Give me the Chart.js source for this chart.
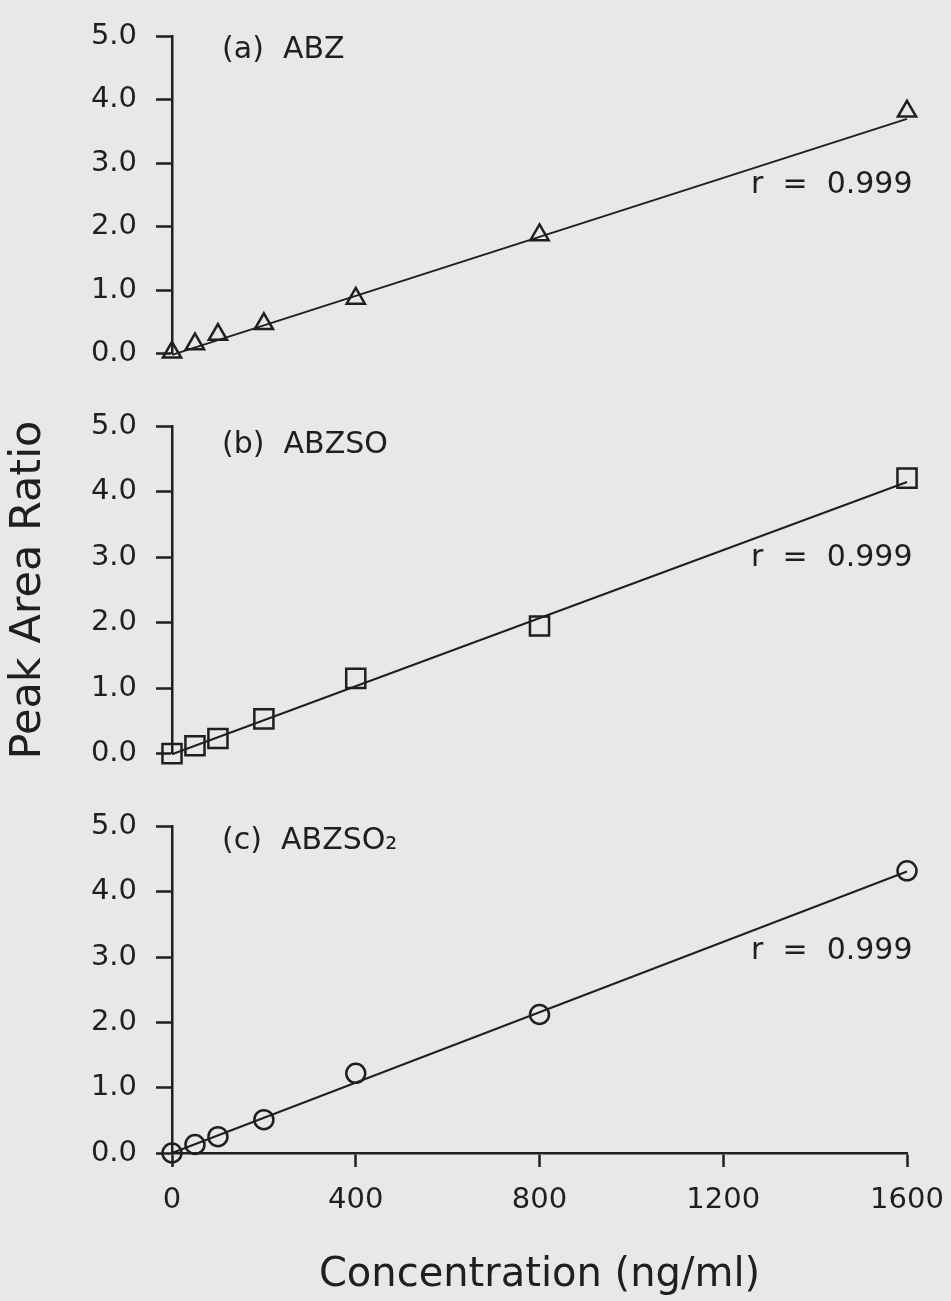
<!DOCTYPE html>
<html>
<head>
<meta charset="utf-8">
<script src="https://cdn.jsdelivr.net/npm/chart.js@4/dist/chart.umd.min.js"></script>
<style>
  body { margin: 0; background: #e8e8e8; }
  #wrap { position: relative; width: 951px; height: 1301px; }
  canvas { position: absolute; left: 0; }
</style>
</head>
<body>
<div id="wrap">
  <canvas id="panelA" width="951" height="390" style="top:0px"></canvas>
  <canvas id="panelB" width="951" height="400" style="top:390px"></canvas>
  <canvas id="panelC" width="951" height="511" style="top:790px"></canvas>
</div>
<script>
const concentrations = [0, 50, 100, 200, 400, 800, 1600];
const abzRatio = [0.02, 0.15, 0.30, 0.47, 0.87, 1.87, 3.82];
const abzsoRatio = [0.0, 0.12, 0.23, 0.53, 1.15, 1.95, 4.21];
const abzso2Ratio = [0.0, 0.13, 0.25, 0.51, 1.22, 2.12, 4.32];

// regression lines, read at both ends
const fitEnds = [0, 1600];
const abzFit = [-0.02, 3.70];
const abzsoFit = [-0.01, 4.15];
const abzso2Fit = [0.0, 4.31];

const yTicks = [0, 1, 2, 3, 4, 5];
const xTicks = [0, 400, 800, 1200, 1600];
const panelNames = ['(a)  ABZ', '(b)  ABZSO', '(c)  ABZSO\u2082'];
const rNotes = ['r  =  0.999', 'r  =  0.999', 'r  =  0.999'];

const ink = '#1f1f1f';
const fontFamily = '"DejaVu Sans", sans-serif';

function toPoints(xs, ys) {
    return xs.map((x, i) => ({ x: x, y: ys[i] }));
}

// draws the panel name and the r value inside the plot
const panelText = {
    id: 'panelText',
    afterDatasetsDraw(chart, args, opts) {
        const ctx = chart.ctx;
        const xs = chart.scales.x;
        const ys = chart.scales.y;
        ctx.save();
        ctx.fillStyle = ink;
        ctx.font = '30px ' + fontFamily;
        ctx.textBaseline = 'middle';
        ctx.textAlign = 'left';
        ctx.fillText(opts.name, xs.getPixelForValue(opts.nameAt[0]), ys.getPixelForValue(opts.nameAt[1]));
        ctx.textAlign = 'right';
        ctx.fillText(opts.note, xs.getPixelForValue(opts.noteAt[0]), ys.getPixelForValue(opts.noteAt[1]));
        ctx.restore();
    }
};

function makePanel(canvasId, values, fit, marker, markerSize, idx, opts) {
    const showX = opts.showX;
    return new Chart(document.getElementById(canvasId), {
        type: 'scatter',
        data: {
            datasets: [{
                data: toPoints(concentrations, values),
                showLine: false,
                pointStyle: marker,
                pointRadius: markerSize,
                pointHoverRadius: markerSize,
                pointBorderWidth: 2.5,
                pointBorderColor: ink,
                pointBackgroundColor: 'rgba(0,0,0,0)',
                clip: false
            }, {
                data: toPoints(fitEnds, fit),
                showLine: true,
                borderColor: ink,
                borderWidth: 2,
                pointRadius: 0,
                clip: false
            }]
        },
        options: {
            responsive: false,
            animation: false,
            devicePixelRatio: 1,
            layout: { padding: opts.padding },
            plugins: {
                legend: { display: false },
                tooltip: { enabled: false },
                panelText: {
                    name: panelNames[idx],
                    note: rNotes[idx],
                    nameAt: [109, opts.nameY],
                    noteAt: [1612, opts.noteY]
                }
            },
            scales: {
                x: {
                    type: 'linear',
                    min: 0,
                    max: 1600,
                    display: showX,
                    afterBuildTicks: axis => { axis.ticks = xTicks.map(v => ({ value: v })); },
                    afterFit: axis => {
                        if (showX) axis.height = 148;
                        axis.paddingLeft = 0;
                        axis.paddingRight = 0;
                    },
                    border: { display: true, color: ink, width: 2.5 },
                    grid: { drawOnChartArea: false, drawTicks: true, tickLength: 14, tickWidth: 2.5, color: ink },
                    ticks: {
                        color: ink,
                        padding: 16,
                        font: { family: fontFamily, size: 29 },
                        callback: v => String(v)
                    },
                    title: {
                        display: showX,
                        text: 'Concentration (ng/ml)',
                        color: ink,
                        padding: { top: 0, bottom: 1 },
                        font: { family: fontFamily, size: 40 }
                    }
                },
                y: {
                    type: 'linear',
                    min: 0,
                    max: 5,
                    afterBuildTicks: axis => { axis.ticks = yTicks.map(v => ({ value: v })); },
                    afterFit: axis => { axis.width = 172; },
                    border: { display: true, color: ink, width: 2.5 },
                    grid: { drawOnChartArea: false, drawTicks: true, tickLength: 16, tickWidth: 2.5, color: ink },
                    ticks: {
                        color: ink,
                        padding: 19,
                        font: { family: fontFamily, size: 29 },
                        callback: v => v.toFixed(1)
                    },
                    title: {
                        display: opts.yTitle,
                        text: 'Peak Area Ratio',
                        color: ink,
                        padding: { top: 3, bottom: 0 },
                        font: { family: fontFamily, size: 43 }
                    }
                }
            }
        },
        plugins: [panelText]
    });
}

makePanel('panelA', abzRatio, abzFit, 'triangle', 10.5, 0,
    { showX: false, yTitle: false, padding: { top: 20, bottom: 26, right: 44 }, nameY: 4.78, noteY: 2.65 });
makePanel('panelB', abzsoRatio, abzsoFit, 'rect', 13.5, 1,
    { showX: false, yTitle: true, padding: { top: 23, bottom: 30, right: 44 }, nameY: 4.71, noteY: 2.98 });
makePanel('panelC', abzso2Ratio, abzso2Fit, 'circle', 9.5, 2,
    { showX: true, yTitle: false, padding: { top: 22, bottom: 0, right: 44 }, nameY: 4.78, noteY: 3.09 });
</script>
</body>
</html>
